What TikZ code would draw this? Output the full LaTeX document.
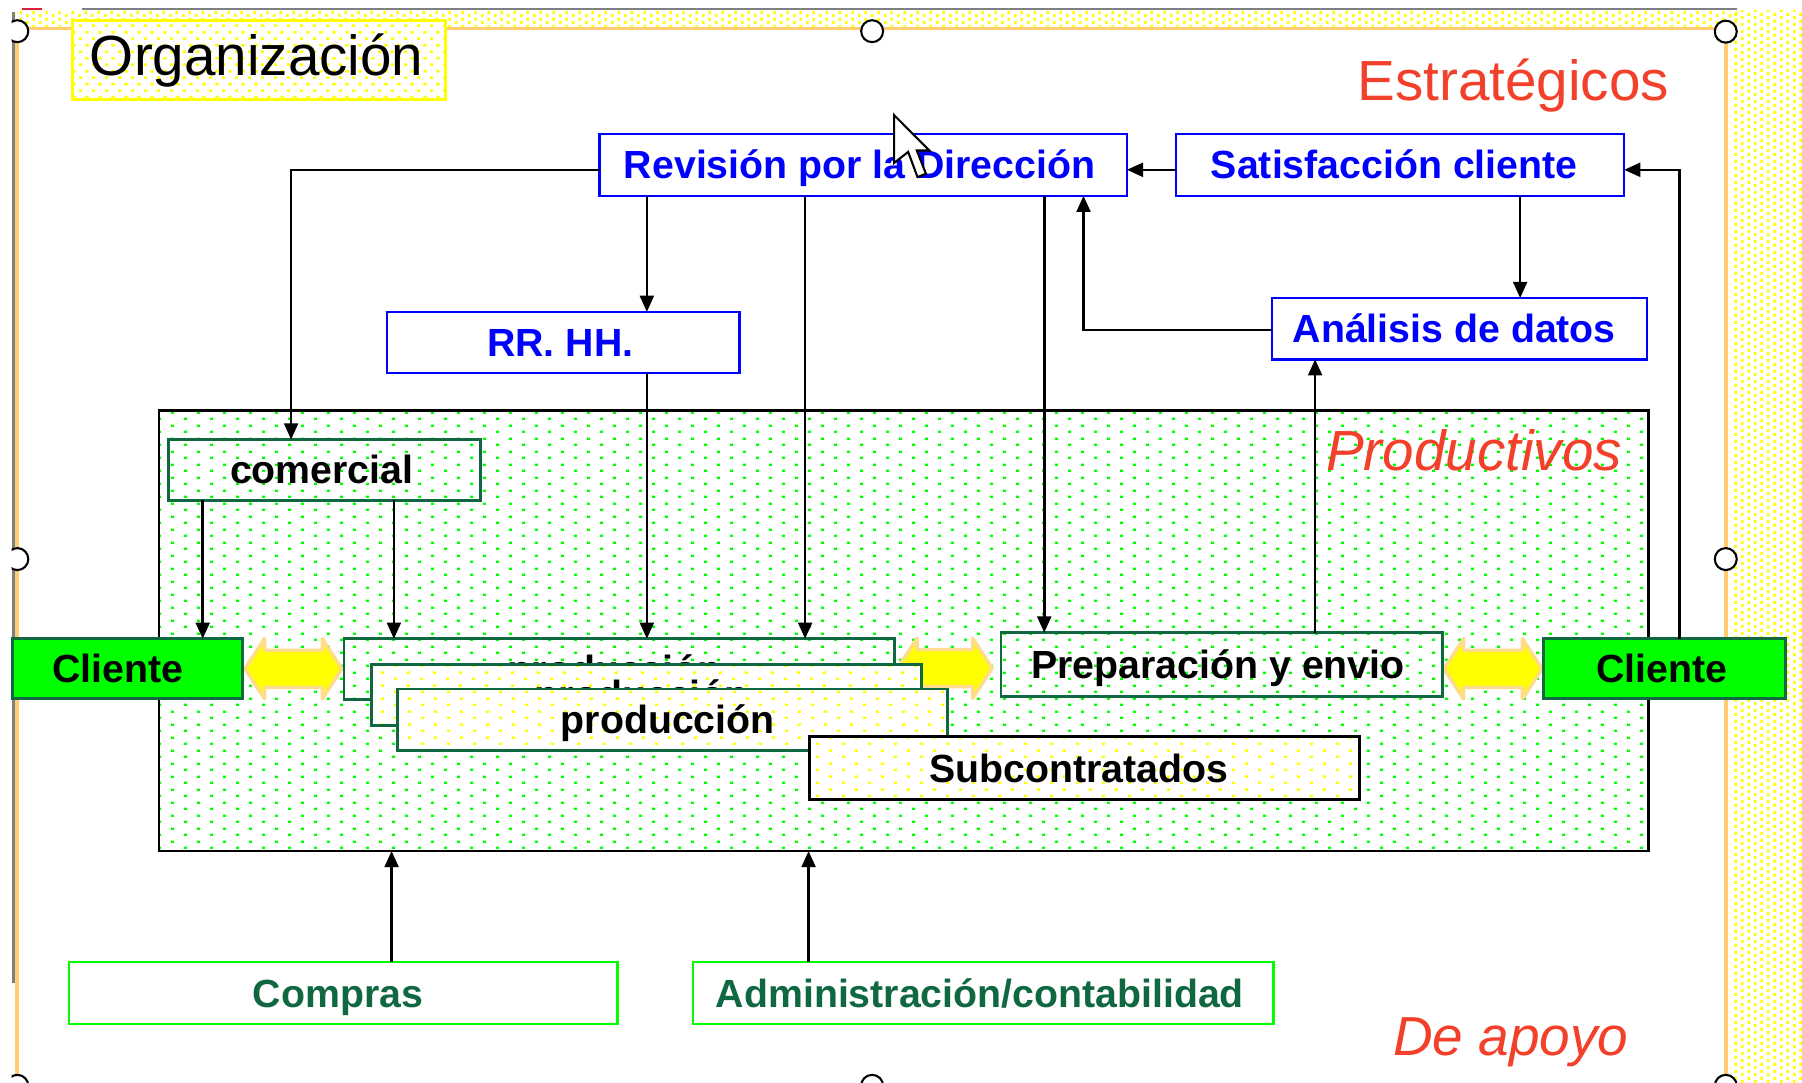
\documentclass[tikz,border=0pt]{standalone}
\usepackage{fontspec}
\setmainfont{Liberation Sans}
\usetikzlibrary{arrows.meta,patterns}
\definecolor{azul}{RGB}{0,0,255}
\definecolor{rojo}{RGB}{242,64,42}
\definecolor{verde}{RGB}{0,255,0}
\definecolor{verdeosc}{RGB}{16,104,64}
\definecolor{amarillo}{RGB}{255,255,0}
\definecolor{naranja}{RGB}{255,204,112}
\definecolor{gris}{RGB}{128,128,128}
\definecolor{flecha}{RGB}{255,220,140}
\definecolor{marca}{RGB}{220,30,60}

\pgfdeclarepatternformonly{dotsfive}{\pgfqpoint{0pt}{0pt}}{\pgfqpoint{11.4pt}{5.63pt}}{\pgfqpoint{11.4pt}{5.63pt}}{%
  \pgfpathrectangle{\pgfqpoint{0pt}{0pt}}{\pgfqpoint{1.35pt}{1.1pt}}%
  \pgfpathrectangle{\pgfqpoint{5.7pt}{2.815pt}}{\pgfqpoint{1.35pt}{1.1pt}}%
  \pgfusepath{fill}}
\pgfdeclarepatternformonly{dotsten}{\pgfqpoint{0pt}{0pt}}{\pgfqpoint{5.8pt}{5.8pt}}{\pgfqpoint{5.8pt}{5.8pt}}{%
  \pgfpathrectangle{\pgfqpoint{0pt}{0pt}}{\pgfqpoint{1.45pt}{1.2pt}}%
  \pgfpathrectangle{\pgfqpoint{2.9pt}{2.9pt}}{\pgfqpoint{1.45pt}{1.2pt}}%
  \pgfusepath{fill}}
\pgfdeclarepatternformonly{bandpat}{\pgfqpoint{0pt}{0pt}}{\pgfqpoint{5.8pt}{2.9pt}}{\pgfqpoint{5.8pt}{2.9pt}}{%
  \pgfpathrectangle{\pgfqpoint{0pt}{0pt}}{\pgfqpoint{1.15pt}{1.3pt}}%
  \pgfpathrectangle{\pgfqpoint{2.9pt}{1.45pt}}{\pgfqpoint{1.15pt}{1.3pt}}%
  \pgfusepath{fill}}

\newcommand\lbl{\fontsize{17}{20}\selectfont\bfseries}
\newcommand\grande{\fontsize{24.5}{29}\selectfont}
\newcommand\dblarrow[3]{%
  \filldraw[fill=amarillo, draw=flecha, line width=1.5pt, line join=round]
  (#1,#3) -- (#1+17,#3-26) -- (#1+17,#3-16) -- (#2-17,#3-16) -- (#2-17,#3-26)
  -- (#2,#3) -- (#2-17,#3+26) -- (#2-17,#3+16) -- (#1+17,#3+16) -- (#1+17,#3+26) -- cycle;}

\tikzset{
  box/.style={rectangle, inner sep=0pt, outer sep=0pt, font=\lbl, text height=12.2pt, text depth=0pt},
  bluebox/.style={box, draw=azul, line width=1.1pt, fill=white, text=azul},
  greenbox/.style={box, draw=verdeosc, line width=1.15pt},
  ybox/.style={box, draw=verdeosc, line width=1.15pt, preaction={fill=white}, pattern=dotsfive, pattern color=amarillo, minimum width=238pt, minimum height=26.5pt},
  clibox/.style={box, draw=verdeosc, line width=1.25pt, fill=verde, minimum height=26pt},
  apoyobox/.style={box, draw=verde, line width=1.1pt, fill=white, text=verdeosc, minimum height=26.75pt},
  conn/.style={draw=black, line width=1.1pt, -{Triangle[length=7pt,width=6pt]}},
  handle/.style={draw=black, fill=white, line width=0.9pt},
}

\begin{document}
\begin{tikzpicture}[x=0.5pt,y=-0.5pt]
\useasboundingbox (0,0) rectangle (1560,937);
\fill[white] (0,0) rectangle (1560,937);

% slide frame
\fill[pattern=bandpat, pattern color=amarillo] (13,8.7) rectangle (1504,23);
\fill[pattern=bandpat, pattern color=amarillo] (1498,8.7) rectangle (1560,937);
\draw[gris, line width=0.75pt] (71,8) -- (1504,8);
\draw[marca, line width=0.8pt] (19,7.5) -- (36,7.5);
\draw[gris, line width=1.3pt] (11.5,10) -- (11.5,851);
\draw[naranja, line width=1.5pt] (14.8,937) -- (14.8,24.5) -- (1494,24.5) -- (1494,937);

% selection handles
\begin{scope}
\clip (10,0) rectangle (1560,937);
\draw[handle] (15,27) circle[radius=9.5];
\draw[handle] (755,27) circle[radius=9.5];
\draw[handle] (1494,27.4) circle[radius=9.5];
\draw[handle] (15,484) circle[radius=9.5];
\draw[handle] (1494,484) circle[radius=9.5];
\draw[handle] (15,940) circle[radius=9.5];
\draw[handle] (755,940) circle[radius=9.5];
\draw[handle] (1494,940) circle[radius=9.5];
\end{scope}

% title
\node[draw=amarillo, line width=1.15pt, preaction={fill=white}, pattern=dotsten, pattern color=amarillo,
      minimum width=161.25pt, minimum height=34pt, inner sep=0pt, font=\grande,
      text height=17.2pt, text depth=4pt] (org) at (224.25,52) {Organización\hspace*{2pt}};
\node[font=\grande, text=rojo, anchor=base] (estr) at (1310,87.2) {Estratégicos};

% strategic boxes
\node[bluebox, minimum width=228.25pt, minimum height=26.75pt] (rev) at (747.25,142.75) {Revisión por la Dirección\hspace*{3pt}};
\node[bluebox, minimum width=194pt, minimum height=26.75pt] (sat) at (1212,142.75) {Satisfacción cliente\hspace*{5pt}};
\node[bluebox, minimum width=152.5pt, minimum height=26.5pt] (rr) at (487.5,296.5) {RR. HH.\hspace*{2.5pt}};
\node[bluebox, minimum width=162.5pt, minimum height=26.5pt] (ana) at (1263.5,284.5) {Análisis de datos\hspace*{4.5pt}};

% productive area
\node[draw=black, line width=1.15pt, preaction={fill=white}, pattern=dotsfive, pattern color=verde,
      minimum width=644.7pt, minimum height=190.65pt, inner sep=0pt, outer sep=0pt] (area) at (782.3,546.05) {};
\node[greenbox, minimum width=135pt, minimum height=26.25pt] (com) at (281,406.75) {comercial\hspace*{2.5pt}};
\node[font=\grande\itshape, text=rojo, anchor=base] (prodlbl) at (1276,407) {Productivos};

\dblarrow{212}{296}{579}
\dblarrow{777}{859}{578.5}
\dblarrow{1250}{1335}{579}

\node[greenbox, minimum width=238.4pt, minimum height=26.25pt] (p1) at (536.1,579.25) {producción\hspace*{4pt}};
\node[ybox] (p2) at (559.65,601.5) {producción\hspace*{4pt}};
\node[ybox] (p3) at (582,623.1) {producción\hspace*{4pt}};
\node[ybox, draw=black, line width=1.3pt, minimum height=27pt] (sub) at (938.65,665) {Subcontratados\hspace*{5pt}};
\node[greenbox, minimum width=191pt, minimum height=27.65pt] (prep) at (1057.5,575.35) {Preparación y envio\hspace*{3pt}};
\node[clibox, minimum width=99.6pt] (cliL) at (110.4,579) {Cliente\hspace*{8.4pt}};
\node[clibox, minimum width=105pt] (cliR) at (1441,579) {Cliente\hspace*{2.6pt}};

% support
\node[apoyobox, minimum width=237.45pt] (comp) at (297.15,859.75) {Compras\hspace*{4.5pt}};
\node[apoyobox, minimum width=251.3pt] (adm) at (851.3,859.75) {Administración/contabilidad\hspace*{3pt}};
\node[font=\fontsize{23.8}{28}\selectfont\itshape, text=rojo, anchor=base] (apoyo) at (1308,913.6) {De apoyo};

% connector guide coordinates
\coordinate (yrev) at (0,147);
\coordinate (yana) at (0,285.8);
\coordinate (xa) at (252,0);
\coordinate (xb) at (560,0);
\coordinate (xc) at (697,0);
\coordinate (xd) at (904,0);
\coordinate (xe) at (175.5,0);
\coordinate (xf) at (341,0);
\coordinate (xg) at (1316,0);
\coordinate (xh) at (938,0);
\coordinate (xi) at (1138.5,0);
\coordinate (xj) at (1454,0);
\coordinate (xk) at (339,0);
\coordinate (xl) at (700,0);

\draw[conn] (rev.west |- yrev) -| (com.north -| xa);
\draw[conn] (rev.south -| xb) -- (rr.north -| xb);
\draw[conn] (rr.south -| xb) -- (p1.north -| xb);
\draw[conn] (rev.south -| xc) -- (p1.north -| xc);
\draw[conn] (rev.south -| xd) -- (prep.north -| xd);
\draw[conn] (com.south -| xe) -- (cliL.north -| xe);
\draw[conn] (com.south -| xf) -- (p1.north -| xf);
\draw[conn] (sat.west |- yrev) -- (rev.east |- yrev);
\draw[conn] (sat.south -| xg) -- (ana.north -| xg);
\draw[conn] (ana.west |- yana) -| (rev.south -| xh);
\draw[conn] (prep.north -| xi) -- (ana.south -| xi);
\draw[conn] (cliR.north -| xj) |- (sat.east |- yrev);
\draw[conn] (comp.north -| xk) -- (area.south -| xk);
\draw[conn] (adm.north -| xl) -- (area.south -| xl);

% mouse pointer
\draw[fill=white, line width=0.9pt, line join=miter]
  (774,99.6) -- (774,141.1) -- (786.2,131.5) -- (794.3,153.3) -- (801.6,150.4)
  -- (793.7,130.3) -- (804.5,130.3) -- cycle;
\end{tikzpicture}
\end{document}
